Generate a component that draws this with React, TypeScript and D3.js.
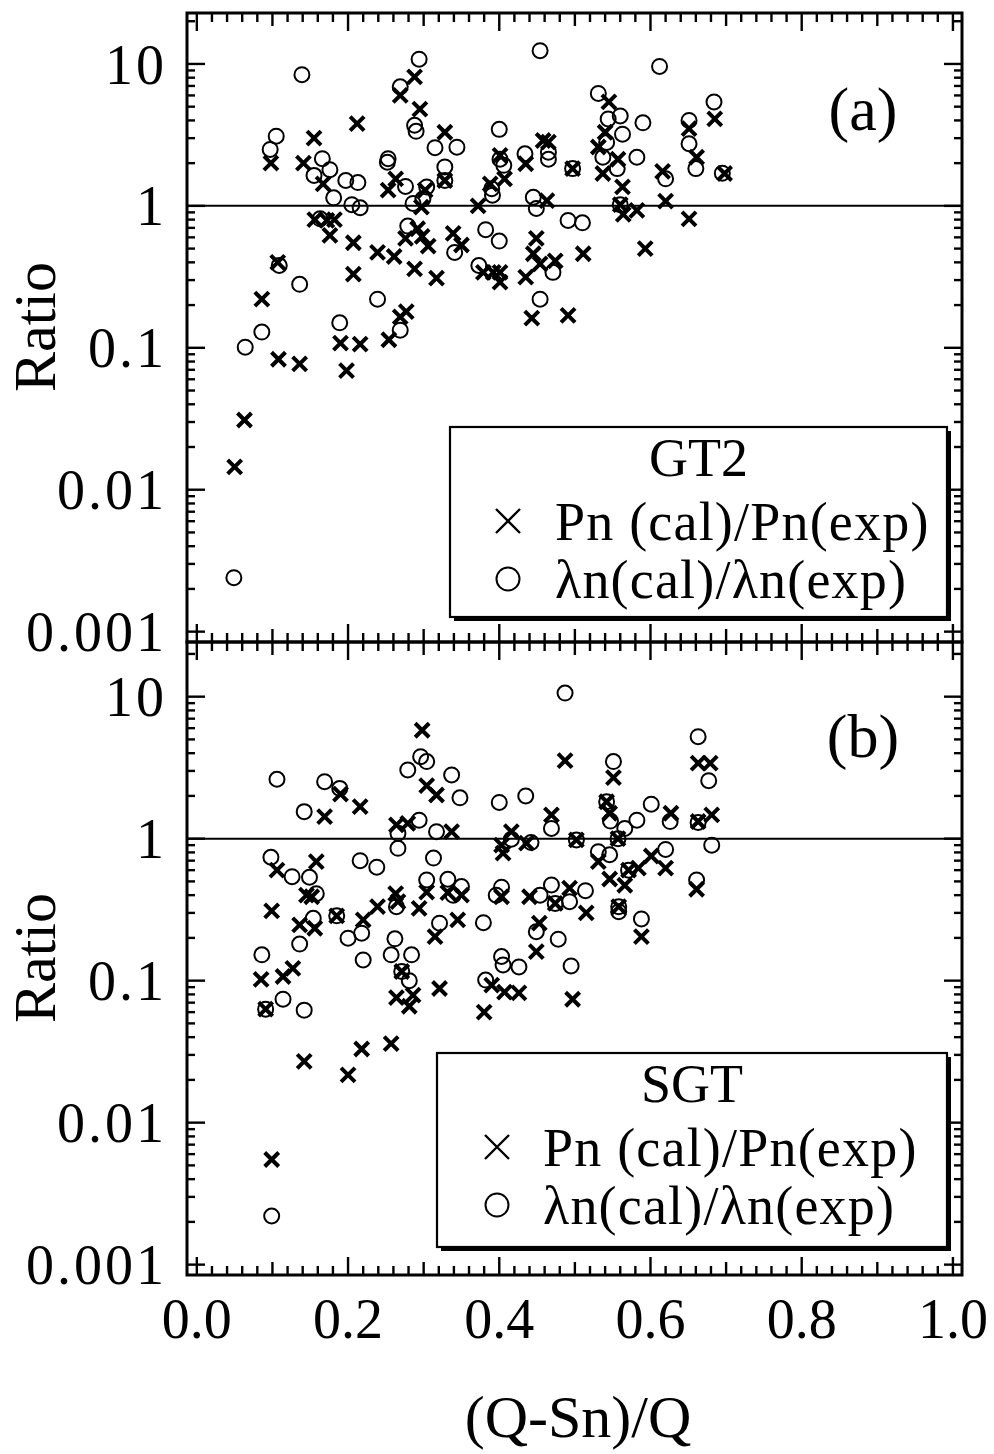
import React, { useEffect, useRef } from 'react'
import * as d3 from 'd3'

type Pt = [number, number]

// (a) GT2 : Pn(cal)/Pn(exp)
const gt2Pn: Pt[] = [
  [0.288, 8.1], [0.269, 6.0], [0.295, 4.8], [0.212, 3.8], [0.155, 3.0], [0.098, 2.0], [0.328, 3.3],
  [0.141, 2.0], [0.167, 1.43], [0.263, 1.55], [0.253, 1.29], [0.328, 1.51], [0.302, 1.29], [0.297, 0.98],
  [0.156, 0.8], [0.172, 0.79], [0.182, 0.8], [0.176, 0.62], [0.207, 0.55], [0.239, 0.47], [0.261, 0.44],
  [0.292, 0.69], [0.276, 0.59], [0.298, 0.61], [0.306, 0.52], [0.288, 0.36], [0.317, 0.31], [0.207, 0.33],
  [0.107, 0.4], [0.086, 0.22], [0.277, 0.18], [0.269, 0.165], [0.339, 0.64], [0.108, 0.083], [0.136, 0.077],
  [0.19, 0.108], [0.216, 0.106], [0.198, 0.069], [0.254, 0.114], [0.063, 0.031], [0.05, 0.0145],
  [0.545, 5.4], [0.54, 3.3], [0.531, 2.6], [0.557, 2.13], [0.537, 1.69], [0.563, 1.36], [0.56, 1.02],
  [0.564, 0.87], [0.582, 0.93], [0.62, 1.08], [0.651, 0.81], [0.593, 0.5], [0.651, 3.5], [0.661, 2.2],
  [0.616, 1.75], [0.685, 4.1], [0.698, 1.69], [0.401, 2.27], [0.407, 1.55], [0.388, 1.43], [0.372, 1.0],
  [0.435, 1.98], [0.458, 2.89], [0.465, 2.81], [0.497, 1.83], [0.463, 1.09], [0.35, 0.53], [0.392, 0.34],
  [0.401, 0.29], [0.401, 0.34], [0.449, 0.59], [0.445, 0.46], [0.454, 0.39], [0.474, 0.41], [0.435, 0.315],
  [0.511, 0.46], [0.443, 0.162], [0.491, 0.169], [0.379, 0.34],
]

// (a) GT2 : λn(cal)/λn(exp)
const gt2Lam: Pt[] = [
  [0.139, 8.4], [0.294, 10.8], [0.269, 6.9], [0.288, 3.7], [0.29, 3.35], [0.105, 3.1], [0.097, 2.5],
  [0.315, 2.57], [0.344, 2.59], [0.166, 2.15], [0.176, 1.8], [0.155, 1.64], [0.197, 1.51], [0.213, 1.46],
  [0.181, 1.14], [0.205, 1.02], [0.216, 0.97], [0.253, 2.15], [0.252, 2.03], [0.276, 1.37], [0.328, 1.88],
  [0.328, 1.51], [0.304, 1.36], [0.286, 1.04], [0.299, 1.12], [0.163, 0.81], [0.279, 0.72], [0.109, 0.38],
  [0.136, 0.28], [0.239, 0.22], [0.189, 0.15], [0.086, 0.129], [0.269, 0.133], [0.341, 0.47], [0.064, 0.101],
  [0.049, 0.0024], [0.454, 12.4], [0.612, 9.6], [0.531, 6.2], [0.544, 4.1], [0.56, 4.3], [0.563, 3.2],
  [0.542, 2.8], [0.537, 2.2], [0.556, 1.83], [0.582, 2.2], [0.59, 3.85], [0.651, 4.0], [0.651, 2.74],
  [0.66, 1.83], [0.62, 1.55], [0.684, 5.4], [0.695, 1.7], [0.4, 3.46], [0.401, 2.13], [0.406, 1.93],
  [0.39, 1.32], [0.391, 1.19], [0.434, 2.33], [0.465, 2.39], [0.465, 2.13], [0.497, 1.83], [0.445, 1.15],
  [0.449, 0.96], [0.491, 0.79], [0.51, 0.76], [0.382, 0.68], [0.4, 0.565], [0.373, 0.38], [0.471, 0.34],
  [0.454, 0.22], [0.56, 1.02],
]

// (b) SGT : Pn(cal)/Pn(exp)
const sgtPn: Pt[] = [
  [0.298, 5.8], [0.304, 2.36], [0.317, 2.03], [0.19, 2.06], [0.216, 1.68], [0.169, 1.43], [0.264, 1.25],
  [0.279, 1.28], [0.337, 1.12], [0.106, 0.6], [0.158, 0.69], [0.145, 0.4], [0.152, 0.39], [0.099, 0.31],
  [0.136, 0.247], [0.156, 0.234], [0.185, 0.286], [0.22, 0.268], [0.239, 0.332], [0.263, 0.41], [0.266, 0.36],
  [0.294, 0.323], [0.304, 0.42], [0.332, 0.417], [0.315, 0.204], [0.345, 0.268], [0.487, 3.54], [0.663, 3.4],
  [0.679, 3.4], [0.551, 2.69], [0.469, 1.47], [0.542, 1.82], [0.546, 1.51], [0.627, 1.51], [0.663, 1.32],
  [0.681, 1.47], [0.416, 1.12], [0.403, 0.9], [0.405, 0.79], [0.436, 0.93], [0.502, 0.98], [0.557, 1.0],
  [0.531, 0.69], [0.546, 0.52], [0.566, 0.47], [0.571, 0.6], [0.584, 0.62], [0.601, 0.755], [0.62, 0.62],
  [0.661, 0.44], [0.35, 0.4], [0.403, 0.39], [0.44, 0.39], [0.474, 0.35], [0.493, 0.448], [0.515, 0.3],
  [0.558, 0.332], [0.588, 0.204], [0.453, 0.254], [0.449, 0.16], [0.085, 0.102], [0.114, 0.107],
  [0.127, 0.122], [0.091, 0.063], [0.271, 0.116], [0.264, 0.076], [0.286, 0.079], [0.281, 0.066],
  [0.321, 0.088], [0.142, 0.027], [0.218, 0.033], [0.257, 0.036], [0.2, 0.0217], [0.099, 0.0055],
  [0.38, 0.06], [0.39, 0.093], [0.407, 0.083], [0.426, 0.082], [0.497, 0.074],
]

// (b) SGT : λn(cal)/λn(exp)
const sgtLam: Pt[] = [
  [0.487, 10.6], [0.296, 3.78], [0.304, 3.49], [0.279, 3.05], [0.337, 2.81], [0.348, 1.94], [0.106, 2.62],
  [0.169, 2.52], [0.189, 2.26], [0.142, 1.55], [0.294, 1.35], [0.266, 1.09], [0.317, 1.12], [0.266, 0.855],
  [0.313, 0.73], [0.098, 0.74], [0.126, 0.54], [0.149, 0.535], [0.216, 0.7], [0.238, 0.63], [0.158, 0.41],
  [0.154, 0.275], [0.185, 0.286], [0.218, 0.216], [0.2, 0.199], [0.136, 0.181], [0.086, 0.152], [0.264, 0.332],
  [0.304, 0.512], [0.332, 0.518], [0.339, 0.4], [0.321, 0.254], [0.262, 0.197], [0.22, 0.14], [0.257, 0.152],
  [0.284, 0.152], [0.663, 5.23], [0.677, 2.56], [0.551, 3.49], [0.4, 1.8], [0.435, 2.0], [0.469, 1.18],
  [0.542, 1.82], [0.547, 1.33], [0.601, 1.75], [0.582, 1.35], [0.566, 1.18], [0.626, 1.32], [0.663, 1.3],
  [0.681, 0.9], [0.416, 0.99], [0.442, 0.94], [0.502, 0.98], [0.557, 1.0], [0.531, 0.81], [0.546, 0.77],
  [0.571, 0.6], [0.62, 0.84], [0.661, 0.512], [0.35, 0.46], [0.403, 0.455], [0.396, 0.4], [0.454, 0.4],
  [0.469, 0.472], [0.493, 0.36], [0.514, 0.43], [0.474, 0.35], [0.558, 0.306], [0.558, 0.332], [0.588, 0.272],
  [0.379, 0.256], [0.449, 0.221], [0.478, 0.196], [0.403, 0.148], [0.114, 0.074], [0.142, 0.062],
  [0.091, 0.063], [0.271, 0.116], [0.281, 0.1], [0.099, 0.0022], [0.382, 0.101], [0.405, 0.129],
  [0.426, 0.125], [0.495, 0.127],
]

const xTickValues = [0, 0.2, 0.4, 0.6, 0.8, 1.0]
const xTickLabels = ['0.0', '0.2', '0.4', '0.6', '0.8', '1.0']
const yTickValues = [0.001, 0.01, 0.1, 1, 10]
const yTickLabels = ['0.001', '0.01', '0.1', '1', '10']
const legendLabels = ['Pn (cal)/Pn(exp)', 'λn(cal)/λn(exp)']

const FONT = '"Liberation Serif", "Times New Roman", serif'

export default function App() {
  const ref = useRef<SVGSVGElement>(null)

  useEffect(() => {
    const svg = d3.select(ref.current)
    svg.selectAll('*').remove()

    const x = d3.scaleLinear().domain([-0.013, 1.012]).range([187, 962])

    const panels = [
      {
        top: 13, bottom: 642, pn: gt2Pn, lam: gt2Lam, name: 'GT2', tag: '(a)',
        y: d3.scaleLog().domain([Math.pow(10, -3.073), Math.pow(10, 1.359)]).range([642, 13]),
        legend: { x0: 450, y0: 427, x1: 947, y1: 617, mx: 508, tx: 555 },
        tagY: 130, ratioY: 327,
      },
      {
        top: 642, bottom: 1275, pn: sgtPn, lam: sgtLam, name: 'SGT', tag: '(b)',
        y: d3.scaleLog().domain([Math.pow(10, -3.073), Math.pow(10, 1.385)]).range([1275, 642]),
        legend: { x0: 437, y0: 1053, x1: 947, y1: 1247, mx: 497, tx: 543 },
        tagY: 757, ratioY: 958,
      },
    ]

    // minor x ticks every 0.02
    const xMinor = d3.range(0, 51).map(i => i / 50)
    const xLen = (v: number) => {
      const k = Math.round(v * 50)
      if (k % 10 === 0) return 18
      if (k % 5 === 0) return 13
      return 9
    }

    panels.forEach(p => {
      const g = svg.append('g')
      const xl = x.range()[0]
      const xr = x.range()[1]

      // frame
      g.append('rect')
        .attr('x', xl).attr('y', p.top)
        .attr('width', xr - xl).attr('height', p.bottom - p.top)
        .attr('fill', 'none').attr('stroke', '#000').attr('stroke-width', 3)

      // x ticks (top and bottom edges, inward)
      g.append('g').selectAll('line.xt')
        .data(xMinor)
        .join('line')
        .attr('x1', d => x(d)).attr('x2', d => x(d))
        .attr('y1', p.top).attr('y2', d => p.top + xLen(d))
        .attr('stroke', '#000').attr('stroke-width', 2.4)
      g.append('g').selectAll('line.xb')
        .data(xMinor)
        .join('line')
        .attr('x1', d => x(d)).attr('x2', d => x(d))
        .attr('y1', p.bottom).attr('y2', d => p.bottom - xLen(d))
        .attr('stroke', '#000').attr('stroke-width', 2.4)

      // y ticks (log, left and right)
      const [lo, hi] = p.y.domain()
      const yMinor: number[] = []
      for (let e = -3; e <= 1; e++) {
        for (let m = 1; m <= 9; m++) {
          const v = m * Math.pow(10, e)
          if (v >= lo && v <= hi) yMinor.push(v)
        }
      }
      const yLen = (v: number) => (Math.abs(Math.log10(v) - Math.round(Math.log10(v))) < 1e-6 ? 18 : 8)
      g.append('g').selectAll('line')
        .data(yMinor)
        .join('line')
        .attr('x1', xl).attr('x2', d => xl + yLen(d))
        .attr('y1', d => p.y(d)).attr('y2', d => p.y(d))
        .attr('stroke', '#000').attr('stroke-width', 2.4)
      g.append('g').selectAll('line')
        .data(yMinor)
        .join('line')
        .attr('x1', xr).attr('x2', d => xr - yLen(d))
        .attr('y1', d => p.y(d)).attr('y2', d => p.y(d))
        .attr('stroke', '#000').attr('stroke-width', 2.4)

      // y tick labels
      g.append('g')
        .attr('font-family', FONT).attr('font-size', 56).attr('text-anchor', 'end')
        .attr('letter-spacing', 3)
        .selectAll('text')
        .data(yTickValues)
        .join('text')
        .attr('x', 167)
        .attr('y', d => p.y(d))
        .attr('dy', '0.35em')
        .text((d, i) => yTickLabels[i])

      // reference line at ratio = 1
      g.append('line')
        .attr('x1', xl).attr('x2', xr)
        .attr('y1', p.y(1)).attr('y2', p.y(1))
        .attr('stroke', '#000').attr('stroke-width', 2)

      // crosses
      const s = 7
      g.append('g')
        .attr('stroke', '#000').attr('stroke-width', 4)
        .selectAll('path')
        .data(p.pn)
        .join('path')
        .attr('d', d => {
          const cx = x(d[0]), cy = p.y(d[1])
          return `M${cx - s},${cy - s}L${cx + s},${cy + s}M${cx - s},${cy + s}L${cx + s},${cy - s}`
        })

      // circles
      g.append('g')
        .attr('stroke', '#000').attr('stroke-width', 2).attr('fill', 'none')
        .selectAll('circle')
        .data(p.lam)
        .join('circle')
        .attr('cx', d => x(d[0]))
        .attr('cy', d => p.y(d[1]))
        .attr('r', 7.5)

      // panel tag
      g.append('text')
        .attr('x', 863).attr('y', p.tagY)
        .attr('text-anchor', 'middle')
        .attr('font-family', FONT).attr('font-size', 62)
        .text(p.tag)

      // y title
      g.append('text')
        .attr('transform', `translate(55,${p.ratioY}) rotate(-90)`)
        .attr('text-anchor', 'middle')
        .attr('font-family', FONT).attr('font-size', 60)
        .text('Ratio')

      // legend
      const L = p.legend
      g.append('rect')
        .attr('x', L.x0 + 4).attr('y', L.y0 + 4)
        .attr('width', L.x1 - L.x0).attr('height', L.y1 - L.y0)
        .attr('fill', '#000')
      g.append('rect')
        .attr('x', L.x0).attr('y', L.y0)
        .attr('width', L.x1 - L.x0).attr('height', L.y1 - L.y0)
        .attr('fill', '#fff').attr('stroke', '#000').attr('stroke-width', 2.2)
      const lg = g.append('g').attr('font-family', FONT).attr('font-size', 54)
      lg.append('text')
        .attr('x', (L.x0 + L.x1) / 2).attr('y', L.y0 + 49)
        .attr('text-anchor', 'middle')
        .text(p.name)
      const rowY = [L.y0 + 94, L.y0 + 152]
      const ls = 12
      lg.append('path')
        .attr('d', `M${L.mx - ls},${rowY[0] - ls}L${L.mx + ls},${rowY[0] + ls}M${L.mx - ls},${rowY[0] + ls}L${L.mx + ls},${rowY[0] - ls}`)
        .attr('stroke', '#000').attr('stroke-width', 2.4)
      lg.append('circle')
        .attr('cx', L.mx).attr('cy', rowY[1]).attr('r', 11.5)
        .attr('fill', 'none').attr('stroke', '#000').attr('stroke-width', 2)
      lg.selectAll('text.entry')
        .data(legendLabels)
        .join('text')
        .attr('x', L.tx)
        .attr('y', (d, i) => rowY[i])
        .attr('dy', '0.35em')
        .attr('letter-spacing', 1.2)
        .text(d => d)
    })

    // x tick labels under the lower panel
    svg.append('g')
      .attr('font-family', FONT).attr('font-size', 56).attr('text-anchor', 'middle')
      .selectAll('text')
      .data(xTickValues)
      .join('text')
      .attr('x', d => x(d))
      .attr('y', 1338)
      .text((d, i) => xTickLabels[i])

    svg.append('text')
      .attr('x', 578).attr('y', 1437)
      .attr('text-anchor', 'middle')
      .attr('font-family', FONT).attr('font-size', 60)
      .text('(Q-Sn)/Q')
  }, [])

  return (
    <svg
      ref={ref}
      width={994}
      height={1454}
      style={{ position: 'absolute', left: 0, top: 0, background: '#fff' }}
    />
  )
}
